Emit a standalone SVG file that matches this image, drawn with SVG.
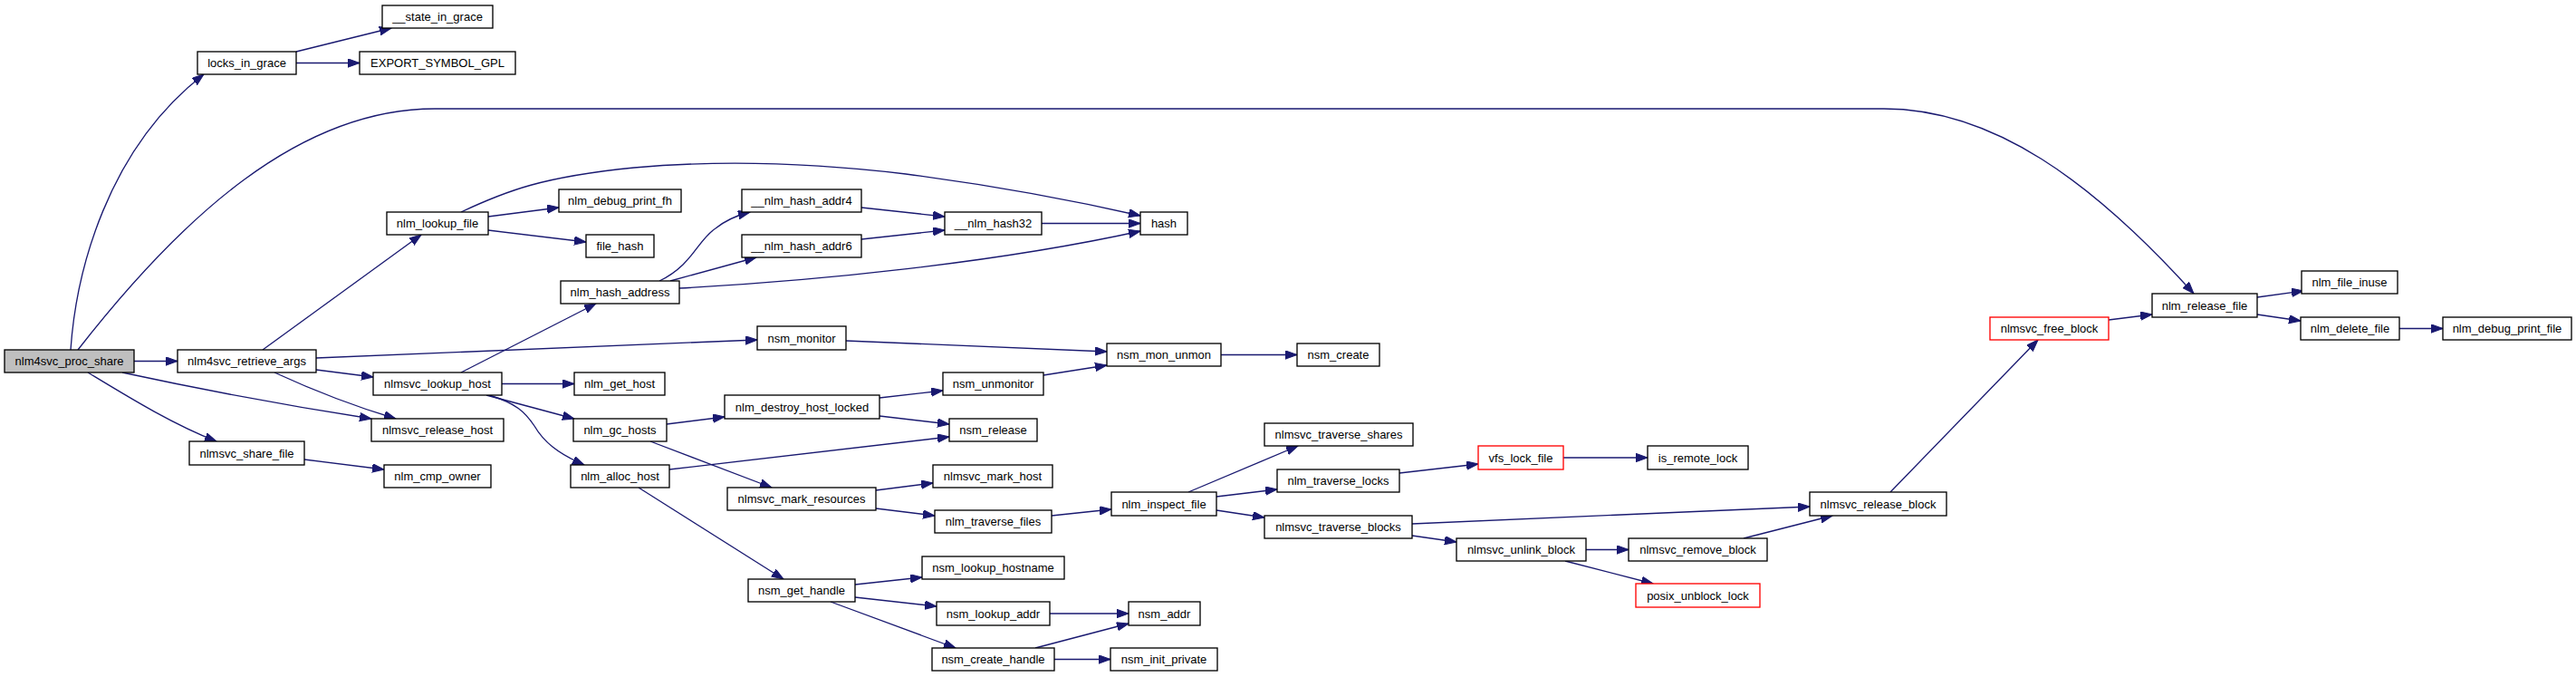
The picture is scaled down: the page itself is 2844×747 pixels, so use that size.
<svg xmlns="http://www.w3.org/2000/svg" width="2844" height="747" viewBox="0 0 2844 747">
<style>
.n rect{fill:#ffffff;stroke:#000000;stroke-width:1.33}
.n.root rect{fill:#bfbfbf}
.n.red rect{stroke:#ff0000}
.n text{font-family:"Liberation Sans",Arial,sans-serif;font-size:13px;fill:#000000;text-anchor:middle}
#edges path{fill:none;stroke:#191970;stroke-width:1.33;marker-end:url(#arr)}
</style>
<defs>
<marker id="arr" markerUnits="userSpaceOnUse" markerWidth="14" markerHeight="10" refX="13" refY="4.7" orient="auto">
<path d="M0,0 L13,4.7 L0,9.4 z" fill="#191970" stroke="#191970" stroke-width="1"/>
</marker>
</defs>
<rect width="2844" height="747" fill="#ffffff"/>
<g id="edges">
<path d="M78,386 C84,300 118,165 225,82"/>
<path d="M86,386 C200,240 330,120 480,120 L2080,120 C2200,120 2310,200 2422,324"/>
<path d="M148,398.5 L196,398.5"/>
<path d="M135,411 C200,425 300,445 410,462"/>
<path d="M97,411 C140,437 190,468 239,487"/>
<path d="M336,507 L424,518"/>
<path d="M290,386 L465,259"/>
<path d="M349,395 L836,375"/>
<path d="M349,408 L412,416"/>
<path d="M303,411 C340,428 390,448 437,462"/>
<path d="M327,57 L432,31"/>
<path d="M327,69.5 L397,69.5"/>
<path d="M539,239 L617,229"/>
<path d="M539,254 L647,267"/>
<path d="M509,234 C560,210 600,195 700,185 C800,176 900,180 1000,192 C1100,205 1180,220 1259,238"/>
<path d="M951,229 L1043,239"/>
<path d="M951,264 L1043,254"/>
<path d="M1150,246.5 L1259,246.5"/>
<path d="M750,318 C900,310 1100,290 1259,255"/>
<path d="M728,310 C765,292 770,265 790,252 C800,244 812,238 828,234"/>
<path d="M740,310 L835,284"/>
<path d="M934,376 L1222,388"/>
<path d="M509,411 L658,335"/>
<path d="M554,423.5 L634,423.5"/>
<path d="M537,436 L634,462"/>
<path d="M540,436 C570,445 580,455 590,470 C600,487 615,500 645,513"/>
<path d="M736,468 L800,460"/>
<path d="M718,487 L852,538"/>
<path d="M739,518 L1048,482"/>
<path d="M705,538 L865,639"/>
<path d="M971,439 L1041,431"/>
<path d="M971,459 L1048,468"/>
<path d="M1152,414 L1222,403"/>
<path d="M1348,391.5 L1432,391.5"/>
<path d="M967,541 L1030,533"/>
<path d="M967,561 L1032,569"/>
<path d="M1161,569 L1227,562"/>
<path d="M1312,543 L1433,492"/>
<path d="M1343,548 L1410,540"/>
<path d="M1343,563 L1396,571"/>
<path d="M1545,522 L1632,512"/>
<path d="M1726,505 L1819,505"/>
<path d="M1559,578 L1998,559"/>
<path d="M1559,591 L1608,598"/>
<path d="M1751,606.5 L1798,606.5"/>
<path d="M1728,619 L1825,644"/>
<path d="M1925,594 L2023,569"/>
<path d="M2087,543 L2250,375"/>
<path d="M2328,353 L2376,347"/>
<path d="M2492,328 L2543,321"/>
<path d="M2492,347 L2540,354"/>
<path d="M2649,362.5 L2697,362.5"/>
<path d="M944,645 L1018,637"/>
<path d="M944,659 L1034,669"/>
<path d="M917,664 L1055,715"/>
<path d="M1159,677 L1246,677"/>
<path d="M1143,715 L1246,688"/>
<path d="M1164,727.5 L1226,727.5"/>
</g>
<g id="nlm4svc_proc_share" class="n root"><rect x="5" y="386" width="143" height="25"/><text x="76.5" y="403">nlm4svc_proc_share</text></g>
<g id="locks_in_grace" class="n"><rect x="218" y="57" width="109" height="25"/><text x="272.5" y="74">locks_in_grace</text></g>
<g id="__state_in_grace" class="n"><rect x="422" y="6" width="122" height="25"/><text x="483" y="23">__state_in_grace</text></g>
<g id="EXPORT_SYMBOL_GPL" class="n"><rect x="397" y="57" width="172" height="25"/><text x="483" y="74">EXPORT_SYMBOL_GPL</text></g>
<g id="nlm_release_file" class="n"><rect x="2376" y="324" width="116" height="26"/><text x="2434" y="341.5">nlm_release_file</text></g>
<g id="nlm4svc_retrieve_args" class="n"><rect x="196" y="386" width="153" height="25"/><text x="272.5" y="403">nlm4svc_retrieve_args</text></g>
<g id="nlmsvc_release_host" class="n"><rect x="410" y="462" width="146" height="25"/><text x="483" y="479">nlmsvc_release_host</text></g>
<g id="nlmsvc_share_file" class="n"><rect x="209" y="487" width="127" height="26"/><text x="272.5" y="504.5">nlmsvc_share_file</text></g>
<g id="nlm_cmp_owner" class="n"><rect x="424" y="513" width="118" height="25"/><text x="483" y="530">nlm_cmp_owner</text></g>
<g id="nlm_lookup_file" class="n"><rect x="427" y="234" width="112" height="25"/><text x="483" y="251">nlm_lookup_file</text></g>
<g id="nlmsvc_lookup_host" class="n"><rect x="412" y="411" width="142" height="25"/><text x="483" y="428">nlmsvc_lookup_host</text></g>
<g id="nsm_monitor" class="n"><rect x="836" y="360" width="98" height="26"/><text x="885" y="377.5">nsm_monitor</text></g>
<g id="nlm_debug_print_fh" class="n"><rect x="617" y="209" width="135" height="25"/><text x="684.5" y="226">nlm_debug_print_fh</text></g>
<g id="file_hash" class="n"><rect x="647" y="259" width="75" height="25"/><text x="684.5" y="276">file_hash</text></g>
<g id="hash" class="n"><rect x="1259" y="234" width="52" height="25"/><text x="1285" y="251">hash</text></g>
<g id="nlm_hash_address" class="n"><rect x="619" y="310" width="131" height="25"/><text x="684.5" y="327">nlm_hash_address</text></g>
<g id="__nlm_hash_addr4" class="n"><rect x="819" y="209" width="132" height="25"/><text x="885" y="226">__nlm_hash_addr4</text></g>
<g id="__nlm_hash_addr6" class="n"><rect x="819" y="259" width="132" height="25"/><text x="885" y="276">__nlm_hash_addr6</text></g>
<g id="__nlm_hash32" class="n"><rect x="1043" y="234" width="107" height="25"/><text x="1096.5" y="251">__nlm_hash32</text></g>
<g id="nlm_get_host" class="n"><rect x="634" y="411" width="100" height="25"/><text x="684" y="428">nlm_get_host</text></g>
<g id="nlm_gc_hosts" class="n"><rect x="633" y="462" width="103" height="25"/><text x="684.5" y="479">nlm_gc_hosts</text></g>
<g id="nlm_alloc_host" class="n"><rect x="630" y="513" width="109" height="25"/><text x="684.5" y="530">nlm_alloc_host</text></g>
<g id="nlm_destroy_host_locked" class="n"><rect x="800" y="436" width="171" height="26"/><text x="885.5" y="453.5">nlm_destroy_host_locked</text></g>
<g id="nlmsvc_mark_resources" class="n"><rect x="803" y="538" width="164" height="25"/><text x="885" y="555">nlmsvc_mark_resources</text></g>
<g id="nsm_get_handle" class="n"><rect x="826" y="639" width="118" height="25"/><text x="885" y="656">nsm_get_handle</text></g>
<g id="nsm_mon_unmon" class="n"><rect x="1222" y="379" width="126" height="25"/><text x="1285" y="396">nsm_mon_unmon</text></g>
<g id="nsm_unmonitor" class="n"><rect x="1041" y="411" width="111" height="25"/><text x="1096.5" y="428">nsm_unmonitor</text></g>
<g id="nsm_release" class="n"><rect x="1048" y="462" width="97" height="25"/><text x="1096.5" y="479">nsm_release</text></g>
<g id="nlmsvc_mark_host" class="n"><rect x="1030" y="513" width="132" height="25"/><text x="1096" y="530">nlmsvc_mark_host</text></g>
<g id="nlm_traverse_files" class="n"><rect x="1032" y="563" width="129" height="25"/><text x="1096.5" y="580">nlm_traverse_files</text></g>
<g id="nlm_inspect_file" class="n"><rect x="1227" y="543" width="116" height="26"/><text x="1285" y="560.5">nlm_inspect_file</text></g>
<g id="nsm_lookup_hostname" class="n"><rect x="1018" y="614" width="157" height="25"/><text x="1096.5" y="631">nsm_lookup_hostname</text></g>
<g id="nsm_lookup_addr" class="n"><rect x="1034" y="664" width="125" height="26"/><text x="1096.5" y="681.5">nsm_lookup_addr</text></g>
<g id="nsm_addr" class="n"><rect x="1246" y="664" width="79" height="26"/><text x="1285.5" y="681.5">nsm_addr</text></g>
<g id="nsm_create_handle" class="n"><rect x="1029" y="715" width="135" height="25"/><text x="1096.5" y="732">nsm_create_handle</text></g>
<g id="nsm_init_private" class="n"><rect x="1226" y="715" width="118" height="25"/><text x="1285" y="732">nsm_init_private</text></g>
<g id="nsm_create" class="n"><rect x="1432" y="379" width="91" height="25"/><text x="1477.5" y="396">nsm_create</text></g>
<g id="nlmsvc_traverse_shares" class="n"><rect x="1396" y="467" width="164" height="25"/><text x="1478" y="484">nlmsvc_traverse_shares</text></g>
<g id="nlm_traverse_locks" class="n"><rect x="1410" y="518" width="135" height="25"/><text x="1477.5" y="535">nlm_traverse_locks</text></g>
<g id="nlmsvc_traverse_blocks" class="n"><rect x="1396" y="569" width="163" height="25"/><text x="1477.5" y="586">nlmsvc_traverse_blocks</text></g>
<g id="vfs_lock_file" class="n red"><rect x="1632" y="492" width="94" height="26"/><text x="1679" y="509.5">vfs_lock_file</text></g>
<g id="is_remote_lock" class="n"><rect x="1819" y="492" width="111" height="26"/><text x="1874.5" y="509.5">is_remote_lock</text></g>
<g id="nlmsvc_unlink_block" class="n"><rect x="1608" y="594" width="143" height="25"/><text x="1679.5" y="611">nlmsvc_unlink_block</text></g>
<g id="nlmsvc_remove_block" class="n"><rect x="1798" y="594" width="153" height="25"/><text x="1874.5" y="611">nlmsvc_remove_block</text></g>
<g id="posix_unblock_lock" class="n red"><rect x="1806" y="644" width="137" height="26"/><text x="1874.5" y="661.5">posix_unblock_lock</text></g>
<g id="nlmsvc_free_block" class="n red"><rect x="2197" y="350" width="131" height="25"/><text x="2262.5" y="367">nlmsvc_free_block</text></g>
<g id="nlmsvc_release_block" class="n"><rect x="1998" y="543" width="151" height="26"/><text x="2073.5" y="560.5">nlmsvc_release_block</text></g>
<g id="nlm_file_inuse" class="n"><rect x="2541" y="299" width="106" height="25"/><text x="2594" y="316">nlm_file_inuse</text></g>
<g id="nlm_delete_file" class="n"><rect x="2540" y="350" width="109" height="25"/><text x="2594.5" y="367">nlm_delete_file</text></g>
<g id="nlm_debug_print_file" class="n"><rect x="2697" y="350" width="142" height="25"/><text x="2768" y="367">nlm_debug_print_file</text></g>
</svg>
